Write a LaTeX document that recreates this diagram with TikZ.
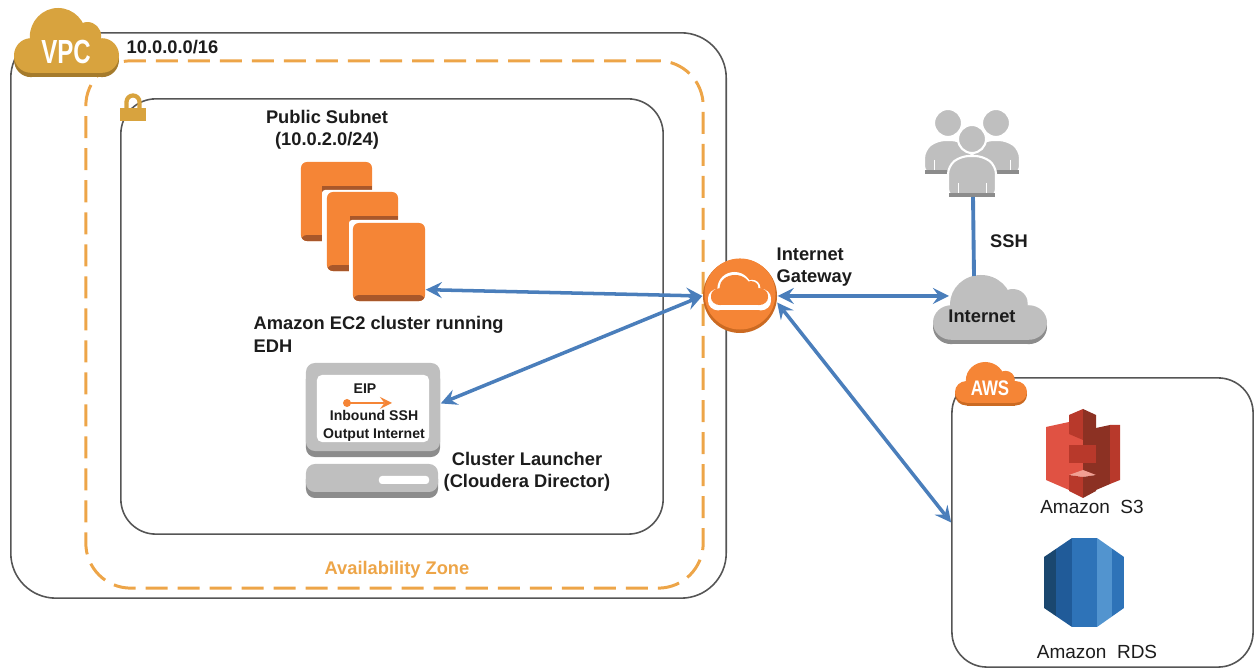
\documentclass[tikz,border=0pt]{standalone}
\usepackage{fontspec}
\setmainfont{Liberation Sans}
\usepackage{tikz}
\usetikzlibrary{positioning,calc}

\definecolor{goldtop}{HTML}{D8A33E}
\definecolor{goldlow}{HTML}{A57B2C}
\definecolor{zoneline}{HTML}{EDA548}
\definecolor{awsorange}{HTML}{F58536}
\definecolor{awslow}{HTML}{A8572A}
\definecolor{igwlow}{HTML}{CB6A22}
\definecolor{arrowblue}{HTML}{4A7EBB}
\definecolor{boxline}{HTML}{555555}
\definecolor{icongrey}{HTML}{BFBFBF}
\definecolor{icondark}{HTML}{8C8C8C}
\definecolor{inktext}{HTML}{1C1C1C}
\definecolor{sthreelight}{HTML}{E05243}
\definecolor{sthreemid}{HTML}{B8392B}
\definecolor{sthreedark}{HTML}{8C3123}
\definecolor{sthreepale}{HTML}{F2A093}

\tikzset{
	areabox/.style={draw=boxline,line width=0.45pt,rectangle,inner sep=0pt},
	lbl/.style={font=\bfseries\fontsize{5.2}{6.3}\selectfont,text=inktext,inner sep=0pt,align=center},
	smalllbl/.style={font=\bfseries\fontsize{4}{5}\selectfont,text=inktext,inner sep=0pt,align=center},
	svclbl/.style={font=\fontsize{5.4}{6.5}\selectfont,text=inktext,inner sep=0pt},
	link/.style={stealth-stealth,draw=arrowblue,line width=1pt},
	ec2box/.style={rectangle,rounded corners=0.06cm,fill=awsorange,inner sep=0pt,minimum width=0.71cm,minimum height=0.79cm,
		path picture={\fill[awslow] (path picture bounding box.south west) rectangle ([yshift=0.06cm]path picture bounding box.south east);}},
	greybox/.style={rectangle,rounded corners=0.09cm,fill=icongrey,inner sep=0pt},
	darkbox/.style={rectangle,rounded corners=0.09cm,fill=icondark,inner sep=0pt},
	usericon/.pic={
		\draw[white,line width=0.6pt,fill=icongrey] (0,0) circle [radius=14];
		\draw[white,line width=0.6pt,fill=icongrey,rounded corners=0.08cm] (-24,#1) -- (-24,27) -- (-11,17) -- (11,17) -- (24,27) -- (24,#1) -- cycle;
		\draw[white,line width=0.25pt] (-14,#1-14) -- (-14,#1-3);
		\draw[white,line width=0.25pt] (14,#1-14) -- (14,#1-3);
		\fill[icondark] (-23,#1-4) rectangle (23,#1);
	},
}

% cloud outline in a box 100 wide and 60 high
\newcommand{\cloudfill}[1]{
	\fill[#1] (42,27) circle [radius=27];
	\fill[#1] (70,26) circle [radius=13];
	\fill[#1] (84,44) circle [radius=16];
	\fill[#1] (16,44) circle [radius=16];
	\fill[#1] (16,30) rectangle (84,60);
}
\newcommand{\cloudicon}[6]{
	\begin{scope}[shift={(#1,#2)},xscale=#3,yscale=#4]
		\begin{scope}[shift={(0,4)}]
			\cloudfill{#6}
		\end{scope}
		\cloudfill{#5}
	\end{scope}
}

\begin{document}
\begin{tikzpicture}[x=0.01cm,y=-0.01cm]
	\useasboundingbox (0,0) rectangle (1255,668);

	% the three nested areas
	\node[areabox,rounded corners=0.45cm,minimum width=7.15cm,minimum height=5.65cm] (vpc) at (368.5,315.5) {};
	\node[areabox,rounded corners=0.45cm,draw=zoneline,line width=0.85pt,dash pattern=on 0.22cm off 0.10cm,minimum width=6.17cm,minimum height=5.27cm] (zone) at (394.5,324.5) {};
	\node[areabox,rounded corners=0.35cm,minimum width=5.42cm,minimum height=4.35cm] (subnet) at (392,316.5) {};

	\cloudicon{14}{8}{1.05}{1.08}{goldtop}{goldlow}
	\node[font=\bfseries\fontsize{9.5}{10}\selectfont,text=white,xscale=0.72,inner sep=0pt] (vpclbl) at (66,52) {VPC};
	\node[lbl,anchor=west] (vpcnet) at (126,47) {10.0.0.0/16};

	% lock on the subnet corner
	\draw[goldtop,line width=1.2pt] (126.5,108) -- (126.5,102) arc [start angle=180,end angle=360,radius=6.5] -- (139.5,108);
	\node[rectangle,fill=goldtop,inner sep=0pt,minimum width=0.26cm,minimum height=0.13cm] (lock) at (133,114.5) {};

	\node[lbl] (subnetlbl) at (327,130) {Public Subnet\\(10.0.2.0/24)};

	% stacked instances
	\node[ec2box] (ec2a) at (336.5,201.5) {};
	\fill[awslow] (322,186) rectangle (372,192);
	\fill[white,rounded corners=0.03cm] (322,190) rectangle (400,275);
	\node[ec2box] (ec2b) at (362.5,231.5) {};
	\fill[awslow] (350,216) rectangle (398,222);
	\fill[white,rounded corners=0.03cm] (349,220) rectangle (427,303);
	\node[ec2box,minimum width=0.72cm,minimum height=0.78cm] (ec2c) at (389,262) {};
	\node[lbl,anchor=north west,align=left] (ec2lbl) at (253,316) {Amazon EC2 cluster running\\EDH};

	% launcher screen and base
	\node[darkbox,minimum width=1.34cm,minimum height=0.87cm] (screenlow) at (373,413.5) {};
	\node[greybox,minimum width=1.34cm,minimum height=0.88cm] (screen) at (373,407) {};
	\node[rectangle,rounded corners=0.05cm,fill=white,inner sep=0pt,minimum width=1.12cm,minimum height=0.67cm] (display) at (373,408.5) {};
	\node[darkbox,minimum width=1.32cm,minimum height=0.28cm] (baselow) at (372,484) {};
	\node[greybox,minimum width=1.32cm,minimum height=0.28cm] (base) at (372,478) {};
	\node[rectangle,rounded corners=0.03cm,fill=white,inner sep=0pt,minimum width=0.50cm,minimum height=0.08cm] (slot) at (404,480) {};
	\node[smalllbl] (eiplbl) at (365,389) {EIP};
	\coordinate (eiptail) at (347,403);
	\coordinate (eiptip) at (392,403);
	\fill[awsorange] (eiptail) circle [radius=4];
	\draw[-stealth,awsorange,line width=0.5pt] (eiptail) -- (eiptip);
	\node[smalllbl] (sshlbl) at (374,426) {Inbound SSH\\Output Internet};
	\node[lbl] (launchlbl) at (527,472) {Cluster Launcher\\(Cloudera Director)};

	\node[lbl,font=\bfseries\fontsize{5.2}{6.3}\selectfont,text=zoneline] (zonelbl) at (397,570) {Availability Zone};

	% gateway
	\node[circle,fill=igwlow,inner sep=0pt,minimum size=0.74cm] (igw) at (740,296) {};
	\node[circle,fill=awsorange,inner sep=0pt,minimum size=0.71cm] (igwtop) at (740,294) {};
	\cloudicon{708}{272}{0.63}{0.60}{white}{white}
	\cloudicon{711}{275}{0.57}{0.47}{awsorange}{awsorange}
	\node[lbl,anchor=north west,align=left] (igwlbl) at (776,247) {Internet\\Gateway};

	% users and internet
	\pic at (948,123) {usericon=51};
	\pic at (996,123) {usericon=51};
	\pic at (972,139) {usericon=58};
	\cloudicon{933}{275}{1.14}{1.08}{icongrey}{icondark}
	\node[lbl] (inetlbl) at (982,316) {Internet};
	\node[lbl] (sshtop) at (1009,241) {SSH};
	\coordinate (usersfoot) at (973,197);
	\coordinate (inettop) at (974,276);
	\coordinate (inetwest) at (949,296);

	% aws services
	\node[areabox,rounded corners=0.35cm,minimum width=3.01cm,minimum height=2.89cm] (aws) at (1102.5,522.5) {};
	\cloudicon{955}{362}{0.72}{0.68}{awsorange}{igwlow}
	\node[font=\bfseries\fontsize{6}{7}\selectfont,text=white,xscale=0.8,inner sep=0pt] (awslbl) at (990,388) {AWS};

	% s3
	\fill[sthreelight] (1046,427) -- (1069,422) -- (1069,490) -- (1046,480) -- cycle;
	\fill[sthreedark] (1096,428) -- (1110,425) -- (1110,484) -- (1096,490) -- cycle;
	\fill[sthreemid] (1110,425) -- (1120,425) -- (1120,480) -- (1110,484) -- cycle;
	\fill[sthreelight] (1069,434) rectangle (1083,475);
	\fill[sthreedark] (1083,434) rectangle (1096,475);
	\fill[sthreemid] (1083,409) -- (1069,415) -- (1069,434) -- (1083,440) -- cycle;
	\fill[sthreedark] (1083,409) -- (1096,415) -- (1096,434) -- (1083,440) -- cycle;
	\fill[sthreemid] (1069,445) rectangle (1096,463);
	\fill[sthreepale] (1069,475) -- (1083,470) -- (1096,475) -- (1083,477) -- cycle;
	\fill[sthreemid] (1069,475) -- (1083,477) -- (1083,498) -- (1069,491) -- cycle;
	\fill[sthreedark] (1096,475) -- (1083,477) -- (1083,498) -- (1096,491) -- cycle;
	\node[svclbl] (s3lbl) at (1092,507) {Amazon\ \ S3};

	% rds
	\begin{scope}
		\clip (1072,538) -- (1097,538) -- (1124,557) -- (1124,608) -- (1097,627) -- (1072,627) -- (1044,608) -- (1044,557) -- cycle;
		\foreach \xa/\xb/\band in {1044/1056/1A476F,1056/1072/205B99,1072/1097/2E73B8,1097/1112/5294CF,1112/1124/2E73B8} {
			\definecolor{bandcol}{HTML}{\band}
			\fill[bandcol] (\xa,538) rectangle (\xb,627);
		}
	\end{scope}
	\node[svclbl] (rdslbl) at (1097,652) {Amazon\ \ RDS};

	\draw[link] (ec2c.-37)--(igw.west);
	\draw[link] (screen.3)--(igw.west);
	\draw[link] (igw.east)--(inetwest);
	\draw[link] (igw.-10)--(aws.west);
	\draw[arrowblue,line width=1.1pt] (usersfoot)--(inettop);
\end{tikzpicture}
\end{document}
